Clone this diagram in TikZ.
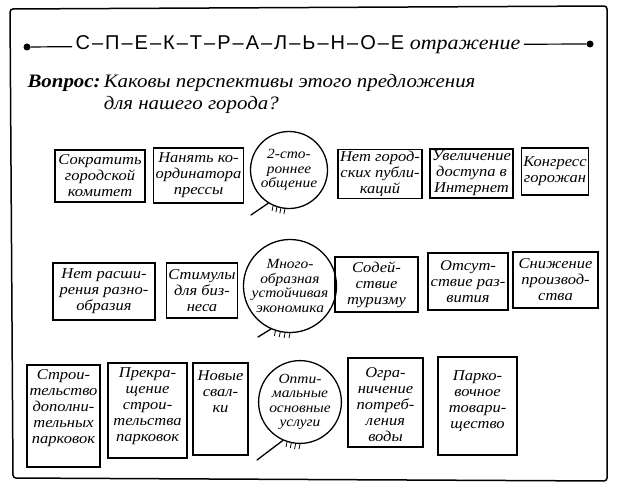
\documentclass[tikz,border=0pt]{standalone}
\usepackage{fontspec}
\setmainfont{Liberation Serif}[FakeStretch=1.1]
\newfontfamily\capsfont{Liberation Sans}[LetterSpace=10]
\usetikzlibrary{positioning}

\begin{document}
\begin{tikzpicture}[x=1pt, y=-1pt,
  idea/.style={draw, line width=1.3pt, align=center, inner sep=2pt, font=\itshape\fontsize{15}{16}\selectfont},
  bubble/.style={draw, circle, line width=1.3pt, align=center, inner sep=0pt, font=\itshape\fontsize{14}{14.5}\selectfont},
  dot/.style={circle, fill, inner sep=0pt, minimum size=7pt},
  tail/.style={line width=1.3pt, line cap=round},
  hatch/.style={line width=0.8pt}]
\useasboundingbox (0,0) rectangle (617,490);
\draw[line width=1.5pt, rounded corners=3pt] (10,9) -- (607,6) -- (607,481) -- (13,478) -- cycle;
\node[dot] (ldot) at (27,47) {};
\node[font=\fontsize{20}{22}\selectfont] (title) at (298,45) {{\capsfont С–П–Е–К–Т–Р–А–Л–Ь–Н–О–Е} \textit{отражение}};
\node[dot] (rdot) at (590,44) {};
\draw[line width=1.2pt](ldot) -- (title);
\draw[line width=1.2pt](title) -- (rdot);
\node[anchor=base west, font=\bfseries\itshape\fontsize{19}{22}\selectfont] (ask) at (24,87) {Вопрос:};
\node[anchor=north west, align=left, font=\itshape\fontsize{19}{22}\selectfont] (question) at ([xshift=-4pt]ask.north east) {Каковы перспективы этого предложения\\для нашего города?};
\node[idea, minimum width=90pt, minimum height=52pt] (cut) at (100,176) {Сократить\\городской\\комитет};
\node[idea, minimum width=87pt, minimum height=55pt] (coord) at (198.5,175.5) {Нанять ко-\\ординатора\\прессы};
\node[bubble, minimum size=77pt] (talk) at (289,170) {2-сто-\\роннее\\общение};
\node[idea, minimum width=84pt, minimum height=48pt] (nopub) at (380,174) {Нет город-\\ских публи-\\каций};
\node[idea, minimum width=83pt, minimum height=47pt] (web) at (471.5,173.5) {Увеличение\\доступа в\\Интернет};
\node[idea, minimum width=64pt, minimum height=47pt] (congress) at (555,171.5) {Конгресс\\горожан};
\coordinate (t1) at (251,215);
\draw[tail](talk.238) -- (t1);
\foreach \a in {246,252,258,264} \draw[hatch](talk.\a) -- ++(-1,5);
\node[idea, minimum width=102pt, minimum height=57pt] (nodiv) at (104,291.5) {Нет расши-\\рения разно-\\образия};
\node[idea, minimum width=70pt, minimum height=55pt] (stim) at (202,290.5) {Стимулы\\для биз-\\неса};
\node[bubble, minimum size=80pt] (econ) at (290,286) {Много-\\образная\\устойчивая\\экономика};
\node[idea, minimum width=83pt, minimum height=55pt] (tour) at (376.5,284.5) {Содей-\\ствие\\туризму};
\node[idea, minimum width=80pt, minimum height=57pt] (nodev) at (468,281.5) {Отсут-\\ствие раз-\\вития};
\node[idea, minimum width=85pt, minimum height=56pt] (prod) at (555.5,280) {Снижение\\производ-\\ства};
\coordinate (t2) at (258,337);
\draw[tail](econ.246) -- (t2);
\foreach \a in {252,258,264,270} \draw[hatch](econ.\a) -- ++(-1,5);
\node[idea] (parks) at (63.5,416) {\parbox[c][98pt][t]{69pt}{\centering\vspace*{3pt}Строи-\\тельство\\дополни-\\тельных\\парковок}};
\node[idea] (stop) at (147.5,410.5) {\parbox[c][91pt][t]{75pt}{\centering\vspace*{3pt}Прекра-\\щение\\строи-\\тельства\\парковок}};
\node[idea] (dump) at (220.5,409) {\parbox[c][88pt][t]{51pt}{\centering\vspace*{6pt}Новые\\свал-\\ки}};
\node[bubble, minimum size=78pt] (serv) at (300,402) {Опти-\\мальные\\основные\\услуги};
\node[idea] (water) at (385.5,402.5) {\parbox[c][85pt][t]{71pt}{\centering\vspace*{8pt}Огра-\\ничение\\потреб-\\ления\\воды}};
\node[idea] (coop) at (477.5,406) {\parbox[c][94pt][t]{75pt}{\centering\vspace*{12pt}Парко-\\вочное\\товари-\\щество}};
\coordinate (t3) at (257,460);
\draw[tail](serv.246) -- (t3);
\foreach \a in {252,258,264,270} \draw[hatch](serv.\a) -- ++(-1,5);
\end{tikzpicture}
\end{document}
